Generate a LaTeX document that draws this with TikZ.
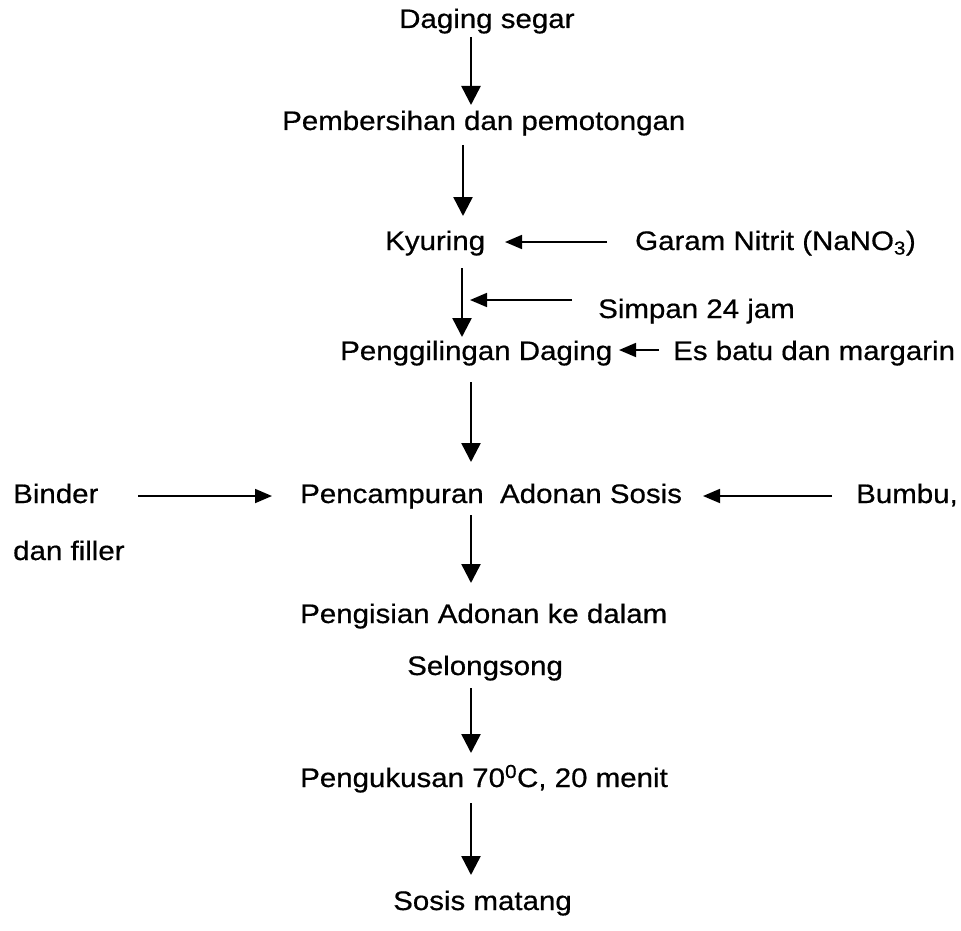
\documentclass[tikz,border=0pt]{standalone}
\usepackage{fontspec}
\setmainfont[FakeStretch=1.1,FakeBold=0.6]{Liberation Sans}
\usetikzlibrary{arrows.meta}
\begin{document}
\begin{tikzpicture}[x=1pt,y=-1pt,
  lbl/.style={inner sep=0pt, anchor=base west, font=\fontsize{26.8}{32}\selectfont},
  arr/.style={line width=2.5pt, -{Triangle[width=19pt,length=19pt]}},
  harr/.style={line width=1.8pt, -{Triangle[width=14pt,length=17pt]}}]
\useasboundingbox (0,0) rectangle (961,931);
% text nodes
\node[lbl] (daging) at (399,28) {Daging segar};
\node[lbl] (pemb) at (282,130) {Pembersihan dan pemotongan};
\node[lbl] (kyur) at (385,250) {Kyuring};
\node[lbl] (garam) at (635,250) {Garam Nitrit (NaNO\textsubscript{3})};
\node[lbl] (simpan) at (598,318) {Simpan 24 jam};
\node[lbl] (giling) at (340,360) {Penggilingan Daging};
\node[lbl] (es) at (673,360) {Es batu dan margarin};
\node[lbl] (binder) at (13,503) {Binder};
\node[lbl] (filler) at (13,560) {dan filler};
\node[lbl] (campur) at (300,503) {Pencampuran\ \ Adonan Sosis};
\node[lbl] (bumbu) at (856,503) {Bumbu,};
\node[lbl] (isi) at (300,623) {Pengisian Adonan ke dalam};
\node[lbl] (selong) at (407,675) {Selongsong};
\node[lbl] (kukus) at (300,787) {Pengukusan 70\textsuperscript{0}C, 20 menit};
\node[lbl] (sosis) at (393,910) {Sosis matang};
% arrow end points
\coordinate (a1s) at (471,37);  \coordinate (a1e) at (471,105);
\coordinate (a2s) at (463,145); \coordinate (a2e) at (463,216);
\coordinate (a3s) at (462,268); \coordinate (a3e) at (462,337);
\coordinate (a4s) at (471,382); \coordinate (a4e) at (471,462);
\coordinate (a5s) at (471,515); \coordinate (a5e) at (471,583);
\coordinate (a6s) at (471,688); \coordinate (a6e) at (471,753);
\coordinate (a7s) at (471,803); \coordinate (a7e) at (471,875);
\coordinate (g1) at (607,242); \coordinate (g2) at (505,242);
\coordinate (s1) at (572,300); \coordinate (s2) at (470,300);
\coordinate (e1) at (659,350); \coordinate (e2) at (619,350);
\coordinate (b1) at (138,496); \coordinate (b2) at (272,496);
\coordinate (u1) at (832,496); \coordinate (u2) at (703,496);
% connectors
\draw[arr] (a1s) -- (a1e);
\draw[arr] (a2s) -- (a2e);
\draw[arr] (a3s) -- (a3e);
\draw[arr] (a4s) -- (a4e);
\draw[arr] (a5s) -- (a5e);
\draw[arr] (a6s) -- (a6e);
\draw[arr] (a7s) -- (a7e);
\draw[harr] (g1) -- (g2);
\draw[harr] (s1) -- (s2);
\draw[harr] (e1) -- (e2);
\draw[harr] (b1) -- (b2);
\draw[harr] (u1) -- (u2);
\end{tikzpicture}
\end{document}
